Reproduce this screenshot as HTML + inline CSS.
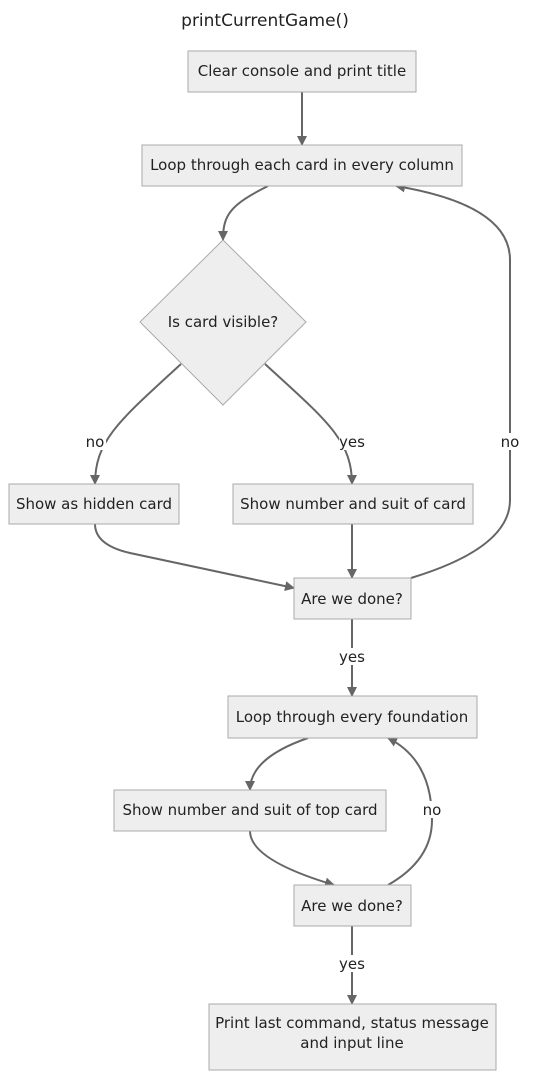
<!DOCTYPE html>
<html><head><meta charset="utf-8"><style>
html,body{margin:0;padding:0;background:#fff;}
svg{display:block;}
text{font-family:"DejaVu Sans","Liberation Sans",sans-serif;font-size:15px;fill:#222;}
.n{fill:#eeeeee;stroke:#aaaaaa;stroke-width:1;}
.e{fill:none;stroke:#666;stroke-width:2;}
.lb{fill:#fff;}
</style></head><body>
<svg width="536" height="1080" viewBox="0 0 536 1080">
<defs><marker id="a" viewBox="0 0 10 10" refX="9" refY="5" markerWidth="5" markerHeight="5" orient="auto"><path d="M0,0L10,5L0,10z" fill="#666"/></marker></defs>
<text x="265" y="26" text-anchor="middle" style="font-size:17px">printCurrentGame()</text>

<path class="e" d="M302,92 L302,145" marker-end="url(#a)"/>
<path class="e" d="M268,186 C230,205 223,215 223,240" marker-end="url(#a)"/>
<path class="e" d="M181,364 C120,420 95,440 95,484" marker-end="url(#a)"/>
<path class="e" d="M265,364 C326,420 352,440 352,484" marker-end="url(#a)"/>
<path class="e" d="M95,524 Q95,545 130,553 L294,588" marker-end="url(#a)"/>
<path class="e" d="M352,524 L352,578" marker-end="url(#a)"/>
<path class="e" d="M411,578 Q510,548 510,500 L510,260 Q510,205 396,186" marker-end="url(#a)"/>
<path class="e" d="M352,619 L352,696" marker-end="url(#a)"/>
<path class="e" d="M308,738 Q250,758 250,790" marker-end="url(#a)"/>
<path class="e" d="M250,831 Q250,860 334,885" marker-end="url(#a)"/>
<path class="e" d="M388,885 Q432,860 432,820 Q432,760 388,738" marker-end="url(#a)"/>
<path class="e" d="M352,926 L352,1004" marker-end="url(#a)"/>

<rect class="n" x="188" y="51" width="228" height="41"/>
<text x="302" y="76" text-anchor="middle">Clear console and print title</text>
<rect class="n" x="142" y="145" width="320" height="41"/>
<text x="302" y="170" text-anchor="middle">Loop through each card in every column</text>
<polygon class="n" points="223,240 306,322 223,405 140,322"/>
<text x="223" y="327" text-anchor="middle">Is card visible?</text>
<rect class="n" x="9" y="484" width="170" height="40"/>
<text x="94" y="509" text-anchor="middle">Show as hidden card</text>
<rect class="n" x="233" y="484" width="240" height="40"/>
<text x="353" y="509" text-anchor="middle">Show number and suit of card</text>
<rect class="n" x="294" y="578" width="117" height="41"/>
<text x="352" y="604" text-anchor="middle">Are we done?</text>
<rect class="n" x="228" y="696" width="249" height="42"/>
<text x="352" y="722" text-anchor="middle">Loop through every foundation</text>
<rect class="n" x="114" y="790" width="272" height="41"/>
<text x="250" y="815" text-anchor="middle">Show number and suit of top card</text>
<rect class="n" x="294" y="885" width="117" height="41"/>
<text x="352" y="911" text-anchor="middle">Are we done?</text>
<rect class="n" x="209" y="1004" width="287" height="66"/>
<text x="352" y="1028" text-anchor="middle">Print last command, status message</text>
<text x="352" y="1048" text-anchor="middle">and input line</text>

<rect class="lb" x="84" y="433" width="22" height="17"/><text x="95" y="447" text-anchor="middle">no</text>
<rect class="lb" x="339" y="433" width="27" height="17"/><text x="352" y="447" text-anchor="middle">yes</text>
<rect class="lb" x="499" y="433" width="22" height="17"/><text x="510" y="447" text-anchor="middle">no</text>
<rect class="lb" x="339" y="648" width="27" height="17"/><text x="352" y="662" text-anchor="middle">yes</text>
<rect class="lb" x="421" y="801" width="22" height="17"/><text x="432" y="815" text-anchor="middle">no</text>
<rect class="lb" x="339" y="955" width="27" height="17"/><text x="352" y="969" text-anchor="middle">yes</text>
</svg>
</body></html>
